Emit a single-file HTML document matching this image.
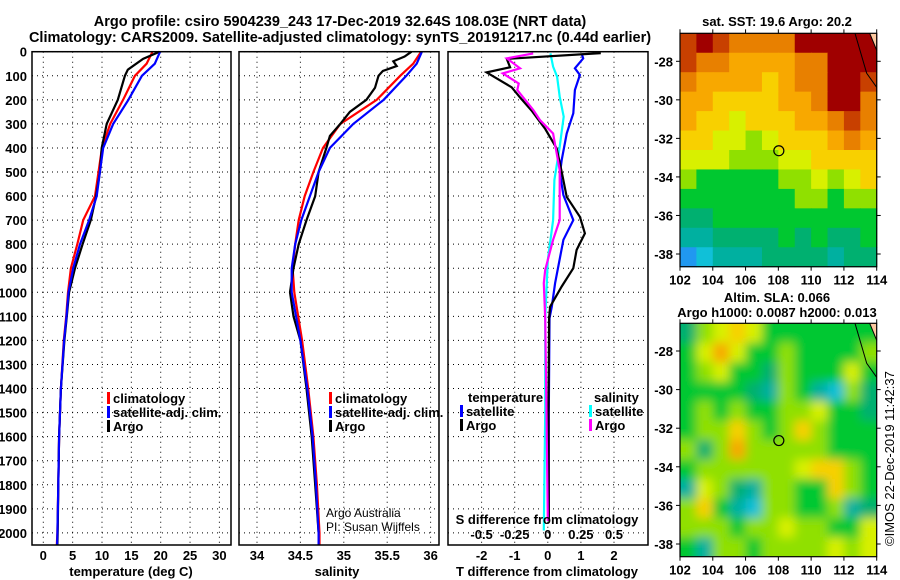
<!DOCTYPE html>
<html><head><meta charset="utf-8"><style>
body{margin:0;background:#fff}
svg{display:block;font-family:"Liberation Sans",sans-serif}
.b{font-weight:bold;font-size:13px}
</style></head><body>
<svg id="c" width="900" height="580" viewBox="0 0 900 580">
<defs>
<filter id="blur" x="-10%" y="-10%" width="120%" height="120%"><feGaussianBlur stdDeviation="5"/></filter>
<clipPath id="slaclip"><rect x="680" y="323.3" width="196.7" height="233.4"/></clipPath>
</defs>
<rect width="900" height="580" fill="#fff"/>
<text x="340" y="26" text-anchor="middle" font-size="14.5" font-weight="bold">Argo profile: csiro 5904239_243 17-Dec-2019 32.64S 108.03E (NRT data)</text>
<text x="340" y="42" text-anchor="middle" font-size="14.5" font-weight="bold">Climatology: CARS2009. Satellite-adjusted climatology: synTS_20191217.nc (0.44d earlier)</text>
</svg>
<script>
// ---------- data ----------
const tDepth=[0,30,75,100,200,300,400,500,600,700,800,900,1000,1100,1200,1400,1600,1800,2000,2050];
const tArgo=[19.8,17,14.4,13.9,12.7,10.8,9.95,9.65,9.0,8.1,6.7,5.4,4.4,4.0,3.6,3.0,2.7,2.56,2.45,2.4];
const cDepth=[0,50,100,200,300,400,500,600,700,800,900,1000,1100,1200,1400,1600,1800,2000,2050];
const tClim=[18.6,17.6,15.6,13.6,11.4,10.0,9.4,8.8,6.8,5.8,4.7,4.2,3.9,3.5,3.0,2.7,2.55,2.4,2.3];
const tSat=[19.9,19.0,16.8,14.5,11.9,10.2,9.65,9.1,7.8,6.25,5.1,4.3,3.95,3.55,3.0,2.7,2.55,2.4,2.35];
const sDepth=[0,20,40,60,80,100,150,200,250,300,350,400,500,600,700,800,900,1000,1100,1200,1400,1600,1800,2000];
const sArgo=[35.78,35.70,35.57,35.61,35.45,35.40,35.36,35.26,35.07,34.96,34.84,34.80,34.71,34.67,34.57,34.48,34.42,34.38,34.42,34.50,34.57,34.63,34.67,34.71];
const scDepth=[0,50,100,200,300,400,500,600,700,800,900,1000,1200,1400,1600,1800,2000,2050];
const sClim=[35.89,35.80,35.65,35.38,34.96,34.76,34.65,34.55,34.48,34.44,34.41,34.43,34.52,34.59,34.65,34.69,34.72,34.72];
const sSat=[35.90,35.84,35.72,35.46,35.11,34.84,34.71,34.61,34.51,34.44,34.40,34.40,34.50,34.58,34.64,34.68,34.71,34.71];
const dtArgoDepth=[6,30,65,86,148,190,245,321,402,499,603,686,755,824,900,976,1060,1108,1500,1950];
const dtArgo=[1.6,-1.24,-1.14,-1.85,-1.09,-0.84,-0.49,-0.08,0.27,0.42,0.57,0.97,1.12,0.87,0.77,0.42,0.07,0.04,0.02,0.03];
const dtSatDepth=[7,28,69,97,159,256,298,340,450,506,596,700,782,962,1060,1108,1500,1950];
const dtSat=[1.02,1.07,0.82,0.97,0.82,0.77,0.67,0.57,0.42,0.37,0.47,0.77,0.47,0.22,0.12,0.05,0.03,0.03];
const dsArgoDepth=[7,28,69,90,132,159,242,284,340,492,700,782,907,962,1108,1500,1950];
const dsArgo=[-0.11,-0.31,-0.21,-0.34,-0.22,-0.23,-0.11,-0.06,0.04,0.09,0.09,0.04,-0.02,-0.03,-0.02,-0.01,0];
const dsSatDepth=[7,62,104,187,270,395,533,700,866,1108,1500,1990];
const dsSat=[0.02,0.04,0.07,0.09,0.12,0.09,0.05,0.04,0,-0.02,-0.02,-0.03];
const depthTicks=[0,100,200,300,400,500,600,700,800,900,1000,1100,1200,1300,1400,1500,1600,1700,1800,1900,2000];
const tTicks=[0,5,10,15,20,25,30];
const sTicks=[34,34.5,35,35.5,36];
const dTTicks=[-2,-1,0,1,2];
const dSTicks=[-0.5,-0.25,0,0.25,0.5];
const dSTickLabels=['-0.5','-0.25','0','0.25','0.5'];
const lonTicks=[102,104,106,108,110,112,114];
const latTicks=[-28,-30,-32,-34,-36,-38];
const sstGrid=[
[11,12,11,10,10,10,10,12,12,12,12,12],
[11,10,10,9,9,9,9,10,10,12,12,12],
[10,9,9,9,9,8,9,10,10,12,12,11],
[9,9,8,8,8,8,9,9,10,12,12,10],
[9,8,8,7,8,8,8,9,9,10,11,10],
[8,8,7,7,6,7,8,8,8,9,10,9],
[7,7,7,6,6,6,7,7,8,8,8,8],
[6,5,5,5,5,5,6,6,7,6,7,8],
[5,5,5,5,5,5,5,6,6,5,6,6],
[4,4,5,5,5,5,5,5,5,5,5,5],
[3,3,4,4,4,4,5,4,5,4,4,5],
[1,2,3,3,3,4,4,4,4,3,4,4]];
const slaGrid=[
[4,6,7,8,7,5,5,5,5,5,5,5],
[5,7,9,7,5,5,6,5,5,5,5,6],
[5,6,7,5,5,4,6,5,5,5,7,5],
[5,5,5,5,4,3,6,5,3,2,6,4],
[5,6,5,6,5,5,6,6,7,5,5,4],
[5,6,6,8,6,5,6,8,6,5,5,5],
[6,4,6,9,6,6,6,6,6,5,5,5],
[5,6,6,6,6,6,6,7,8,8,6,5],
[3,7,6,4,3,6,6,5,5,8,6,5],
[6,8,5,3,2,6,6,5,5,6,3,4],
[6,6,6,5,6,6,7,6,6,5,5,7],
[5,3,6,6,5,6,6,6,6,7,6,7]];
const argoLon=108.03, argoLat=-32.64;
// ---------- helpers ----------
const NS='http://www.w3.org/2000/svg';
const svg=document.getElementById('c');
function mk(tag,attrs,parent){const e=document.createElementNS(NS,tag);for(const k in attrs)e.setAttribute(k,attrs[k]);(parent||svg).appendChild(e);return e;}
function txt(x,y,s,attrs,name){const e=mk('text',Object.assign({x:x,y:y},attrs));e.textContent=s;


return e;}
const Y0=51.7, PX100=24.06;
const yD=d=>Y0+d*PX100/100;
const xT=t=>43.3+t*5.87;
const xS=s=>257+(s-34)*86.8;
const xDT=t=>547.8+t*33.1;
const xDS=s=>547.8+s*132.4;
function panel(x0,x1,name){
  const g=mk('g',{});
  
  
  depthTicks.forEach(d=>{mk('line',{x1:x0,x2:x1,y1:yD(d),y2:yD(d),stroke:'#000','stroke-dasharray':'1 4'},g);});
  return g;
}
function vgrid(g,xs){xs.forEach(x=>mk('line',{x1:x,x2:x,y1:Y0,y2:545,stroke:'#000','stroke-dasharray':'1 4'},g));}
function frame(g,x0,x1){mk('rect',{x:x0,y:Y0,width:x1-x0,height:545-Y0,fill:'none',stroke:'#000','stroke-width':1.5},g);}
function line(g,xs,ds,xf,color,name){
  const p=mk('polyline',{points:xs.map((v,i)=>xf(v).toFixed(1)+','+yD(ds[i]).toFixed(1)).join(' '),fill:'none',stroke:color,'stroke-width':2.2},g);
  
  
}
function legend(g,x,y,items){
  items.forEach((it,i)=>{
    mk('rect',{x:x,y:y+i*14-11,width:3,height:12,fill:it[1]},g);
    txt(x+6,y+i*14,it[0],{class:'b'},'legend-entry');
  });
}
depthTicks.forEach(d=>txt(27,yD(d)+5,String(d),{class:'b','text-anchor':'end'},'depth-tick-label'));
// panel 1
const p1=panel(32,231,'temperature-panel');
vgrid(p1,tTicks.map(xT));
line(p1,tClim,cDepth,xT,'#f00','temp-climatology-line');
line(p1,tArgo,tDepth,xT,'#000','temp-argo-line');
line(p1,tSat,cDepth,xT,'#00f','temp-satellite-line');
frame(p1,32,231);
tTicks.forEach(t=>txt(xT(t),560,String(t),{class:'b','text-anchor':'middle'},'temp-tick-label'));
txt(131,576,'temperature (deg C)',{class:'b','text-anchor':'middle'},'x-axis-title-temperature');
legend(p1,107,403,[['climatology','#f00'],['satellite-adj. clim.','#00f'],['Argo','#000']]);
// panel 2
const p2=panel(239,439,'salinity-panel');
vgrid(p2,sTicks.map(xS));
line(p2,sClim,scDepth,xS,'#f00','sal-climatology-line');
line(p2,sArgo,sDepth,xS,'#000','sal-argo-line');
line(p2,sSat,scDepth,xS,'#00f','sal-satellite-line');
frame(p2,239,439);
sTicks.forEach(t=>txt(xS(t),560,String(t),{class:'b','text-anchor':'middle'},'sal-tick-label'));
txt(337,576,'salinity',{class:'b','text-anchor':'middle'},'x-axis-title-salinity');
legend(p2,329,403,[['climatology','#f00'],['satellite-adj. clim.','#00f'],['Argo','#000']]);
txt(326,517,'Argo Australia',{'font-size':12},'credit-argo-australia');
txt(326,531,'PI: Susan Wijffels',{'font-size':12},'credit-pi');
// panel 3
const p3=panel(448,648,'difference-panel');
vgrid(p3,dTTicks.map(xDT));
line(p3,dsSat,dsSatDepth,xDS,'#0ff','sal-diff-satellite-line');
line(p3,dtSat,dtSatDepth,xDT,'#00f','temp-diff-satellite-line');
line(p3,dtArgo,dtArgoDepth,xDT,'#000','temp-diff-argo-line');
line(p3,dsArgo,dsArgoDepth,xDS,'#f0f','sal-diff-argo-line');
frame(p3,448,648);
txt(468,402,'temperature',{class:'b'},'legend-title-temperature');
legend(p3,460,416,[['satellite','#00f'],['Argo','#000']]);
txt(594,402,'salinity',{class:'b'},'legend-title-salinity');
legend(p3,589,416,[['satellite','#0ff'],['Argo','#f0f']]);
txt(547,524,'S difference from climatology',{class:'b','text-anchor':'middle'},'s-axis-title');
dSTicks.forEach((s,i)=>txt(xDS(s),539,dSTickLabels[i],{class:'b','text-anchor':'middle'},'s-diff-tick-label'));
dTTicks.forEach(t=>txt(xDT(t),560,String(t),{class:'b','text-anchor':'middle'},'t-diff-tick-label'));
txt(547,576,'T difference from climatology',{class:'b','text-anchor':'middle'},'t-axis-title');
// maps
const cmap=['#1058e0','#2098f0','#10c0d8','#00b0a0','#00b070','#00c830','#90e000','#d8f000','#f8d000','#f8a800','#e88000','#c84000','#a00000'];
function map(top,bot,lat28,lat38,grid,name,smooth){
  const L=680,R=876.7;
  const g=mk('g',{});
  
  
  const rows=grid.length, cols=grid[0].length, cw=(R-L)/cols, rh=(bot-top)/rows;
  let cg=g;
  if(smooth){const clip=mk('g',{'clip-path':'url(#slaclip)'},g);cg=mk('g',{filter:'url(#blur)'},clip);}
  grid.forEach((row,r)=>row.forEach((v,c)=>{
    let x=L+c*cw,y=top+r*rh,w=cw+0.6,h=rh+0.6;
    if(smooth){if(c==0){x-=15;w+=15;} if(c==cols-1)w+=15; if(r==0){y-=15;h+=15;} if(r==rows-1)h+=15;}
    mk('rect',{x:x,y:y,width:w,height:h,fill:cmap[v]},cg);
  }));
  const xl=lon=>L+(lon-102)*(R-L)/12;
  const yl=lat=>lat28+(-28-lat)*(lat38-lat28)/10;
  mk('polygon',{points:`${R-7},${top} ${R},${top} ${R},${top+17}`,fill:'#fcc8a0'},g);
  mk('polyline',{points:`${L+175},${top} ${R-10},${top+40} ${R},${top+54}`,fill:'none',stroke:'#000','stroke-width':1},g);
  mk('polyline',{points:`${R-7},${top} ${R},${top+17}`,fill:'none',stroke:'#000','stroke-width':1},g);
  mk('rect',{x:L,y:top,width:R-L,height:bot-top,fill:'none',stroke:'#000','stroke-width':1.2},g);
  lonTicks.forEach(lon=>{mk('line',{x1:xl(lon),x2:xl(lon),y1:top,y2:top-4,stroke:'#000'},g);mk('line',{x1:xl(lon),x2:xl(lon),y1:bot,y2:bot+4,stroke:'#000'},g);
    txt(xl(lon),bot+18,String(lon),{class:'b','text-anchor':'middle'},'lon-tick-label');});
  latTicks.forEach(lat=>{mk('line',{x1:L,x2:L-4,y1:yl(lat),y2:yl(lat),stroke:'#000'},g);mk('line',{x1:R,x2:R+4,y1:yl(lat),y2:yl(lat),stroke:'#000'},g);
    txt(673,yl(lat)+5,String(lat),{class:'b','text-anchor':'end'},'lat-tick-label');});
  const c=mk('circle',{cx:xl(argoLon),cy:yl(argoLat),r:5,fill:'none',stroke:'#000','stroke-width':1.2},g);
  
  
}
map(33.3,266.7,61.3,254,sstGrid,'sst-map',false);
txt(777,26,'sat. SST: 19.6 Argo: 20.2',{class:'b','text-anchor':'middle'},'sst-map-title');
map(323.3,556.7,351,544,slaGrid,'sla-map',true);
txt(777,302,'Altim. SLA: 0.066',{class:'b','text-anchor':'middle'},'sla-map-title');
txt(777,317,'Argo h1000: 0.0087 h2000: 0.013',{class:'b','text-anchor':'middle'},'sla-map-subtitle');
txt(0,0,'©IMOS 22-Dec-2019 11:42:37',{'font-size':13,transform:'translate(894,546) rotate(-90)'},'timestamp-credit');
</script>
</body></html>
